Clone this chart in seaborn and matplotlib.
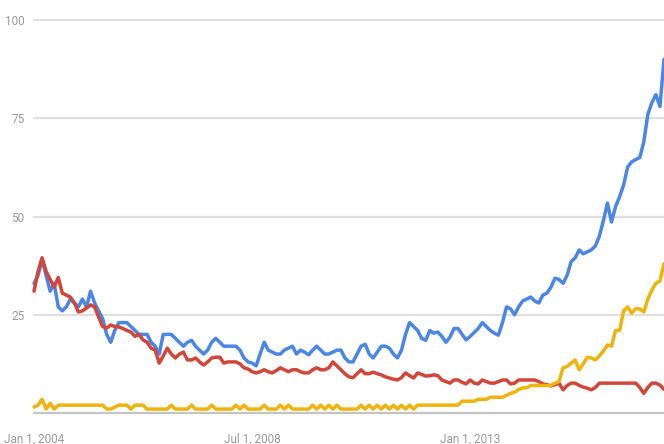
import numpy as np
import pandas as pd
import matplotlib
matplotlib.use("Agg")
import matplotlib.pyplot as plt
import seaborn as sns

# Monthly interest values, Jan 2004 .. Jan 2017 (157 points each)
blue = [
    33, 35, 39, 35, 31, 33, 27, 26, 27, 29, 28, 27, 29, 27, 31, 28, 26, 24, 20, 18,
    21, 23, 23, 23, 22, 21, 20, 20, 20, 18, 17, 15, 20, 20, 20, 19, 18, 17, 18, 18.5,
    17, 16, 15, 16, 18, 19, 18, 17, 17, 17, 17, 16, 14, 13, 12.7, 12, 15, 18, 16, 15.5,
    15, 15, 16, 16.5, 17, 15, 16, 15.5, 14.8, 16, 17, 16, 15, 15, 15.5, 16, 16, 14, 13, 13,
    15, 17, 17.5, 15, 14, 15.5, 17, 17, 16.5, 15, 14, 16, 20, 23, 22, 21, 19, 18.5, 21, 20.3,
    20.6, 19.5, 18, 19.3, 21.5, 21.5, 20, 18.6, 19.5, 20.5, 21.5, 23, 22, 21, 20.3, 19.8, 23, 27, 26.5, 25,
    27, 28.5, 29, 29.5, 28.5, 28, 30, 30.5, 32, 34.3, 34, 33, 35, 38.5, 39.5, 41.5, 40.5, 41, 41.5, 42.5,
    45, 49, 53.4, 48.6, 52.5, 55, 58, 62.6, 63.9, 64.5, 65, 69, 76, 79, 81, 78, 90,
]
red = [
    31, 36, 39.5, 36, 34, 32, 34.5, 30.5, 30, 29.5, 28, 25.7, 26, 26.7, 27.5, 27, 24.4, 22, 21.6, 22.4,
    22, 21.9, 21.5, 21, 20.6, 19.5, 20, 18.6, 18, 16.5, 16, 12.7, 14.5, 16.5, 15, 14, 15, 15.5, 13.5, 13.5,
    14, 13, 12.2, 13, 14, 14.2, 14.2, 12.7, 13, 13, 13, 12.5, 11.5, 11.2, 10.5, 10.2, 10.5, 11, 10.5, 10.2,
    10.8, 11.5, 11, 10.5, 11, 11, 10.5, 10.2, 10.2, 11, 11.5, 11, 11, 11.5, 13, 12, 11, 10, 9.2, 9,
    10, 11, 10, 10, 10.4, 10, 9.7, 9.2, 8.9, 8.6, 8.4, 9, 10.2, 9.5, 8.9, 10.2, 9.8, 9.4, 9.5, 9.7,
    9.5, 8.4, 8, 7.6, 8.4, 8.4, 7.8, 7.4, 8.4, 7.6, 7.4, 8.4, 8, 7.6, 7.6, 8, 8.4, 8.4, 7.4, 7.6,
    8.4, 8.4, 8.4, 8.4, 8.4, 8, 7.4, 7.2, 6.9, 7.2, 7.6, 5.9, 7, 7.6, 7.6, 7, 6.6, 6.3, 5.9, 6.5,
    7.6, 7.6, 7.6, 7.6, 7.6, 7.6, 7.6, 7.6, 7.6, 7.6, 6.5, 5, 6.5, 7.6, 7.6, 7.1, 6,
]
yellow = [
    1.5, 2, 3.5, 1, 2.5, 1, 2, 2, 2, 2, 2, 2, 2, 2, 2, 2, 2, 2, 1, 1,
    1.5, 2, 2, 2, 1, 2, 2, 2, 1, 1, 1, 1, 1, 1, 2, 1, 1, 1, 1, 2,
    1, 1, 1, 1, 2, 1, 1, 1, 1, 1, 2, 1, 2, 1, 1, 1, 1, 2, 1, 1,
    1, 2, 1, 2, 1, 1, 1, 1, 1, 2, 1, 2, 1, 2, 1, 2, 1, 1, 1, 1,
    1, 2, 1, 2, 1, 2, 1, 2, 1, 2, 1, 2, 1, 2, 1, 2, 2, 2, 2, 2,
    2, 2, 2, 2, 2, 2, 3, 3, 3, 3, 3.5, 3.5, 3.5, 4, 4, 4, 4, 4.5, 5, 5.3,
    6, 6.4, 6.4, 7, 7, 7, 7, 7, 7, 7.6, 8, 11.5, 11.8, 12.7, 13.5, 11, 12.5, 14.2, 14, 13.5,
    14.5, 15.8, 17.3, 17, 21, 21, 26, 27, 25.4, 26.5, 26.5, 25.7, 29, 31.3, 33, 33.6, 38,
]
series_names = ["blue", "red", "yellow"]
colors = ["#4a86e8", "#d2463a", "#efb30c"]

y_ticks = [25, 50, 75, 100]
x_tick_pos = [0, 54, 108]
x_tick_labels = ["Jan 1, 2004", "Jul 1, 2008", "Jan 1, 2013"]

months = np.arange(len(blue))
df = pd.DataFrame({
    "month": np.concatenate([months] * 3),
    "value": blue + red + yellow,
    "series": np.repeat(series_names, len(months)),
})

sns.set_style("white")
plt.rcParams["font.family"] = ["Roboto", "DejaVu Sans"]

fig = plt.figure(figsize=(6.64, 4.44), dpi=100)
ax = fig.add_axes([34 / 664, 31 / 444, 1 - 34 / 664, 393 / 444])

# gridlines first, under the data
for v in y_ticks:
    ax.axhline(v, color="#e0e0e0", lw=1.6, zorder=0)
ax.axhline(0, color="#c4c4c4", lw=1.6, zorder=0)

sns.lineplot(data=df, x="month", y="value", hue="series", hue_order=series_names,
             palette=colors, lw=2.5, ax=ax, legend=False)

ax.set_xlim(0, 156)
ax.set_ylim(0, 100)
for s in ax.spines.values():
    s.set_visible(False)
ax.set_xlabel("")
ax.set_ylabel("")
ax.set_yticks(y_ticks)
ax.set_yticklabels([str(t) for t in y_ticks])
ax.set_xticks(x_tick_pos)
ax.set_xticklabels(x_tick_labels)
ax.tick_params(axis="both", length=0, labelsize=8.5, colors="#9a9a9a")
ax.tick_params(axis="y", pad=7)
ax.tick_params(axis="x", pad=14)
for ln in ax.get_lines():
    ln.set_clip_on(False)

fig.savefig("out.png", dpi=100, facecolor="white")
